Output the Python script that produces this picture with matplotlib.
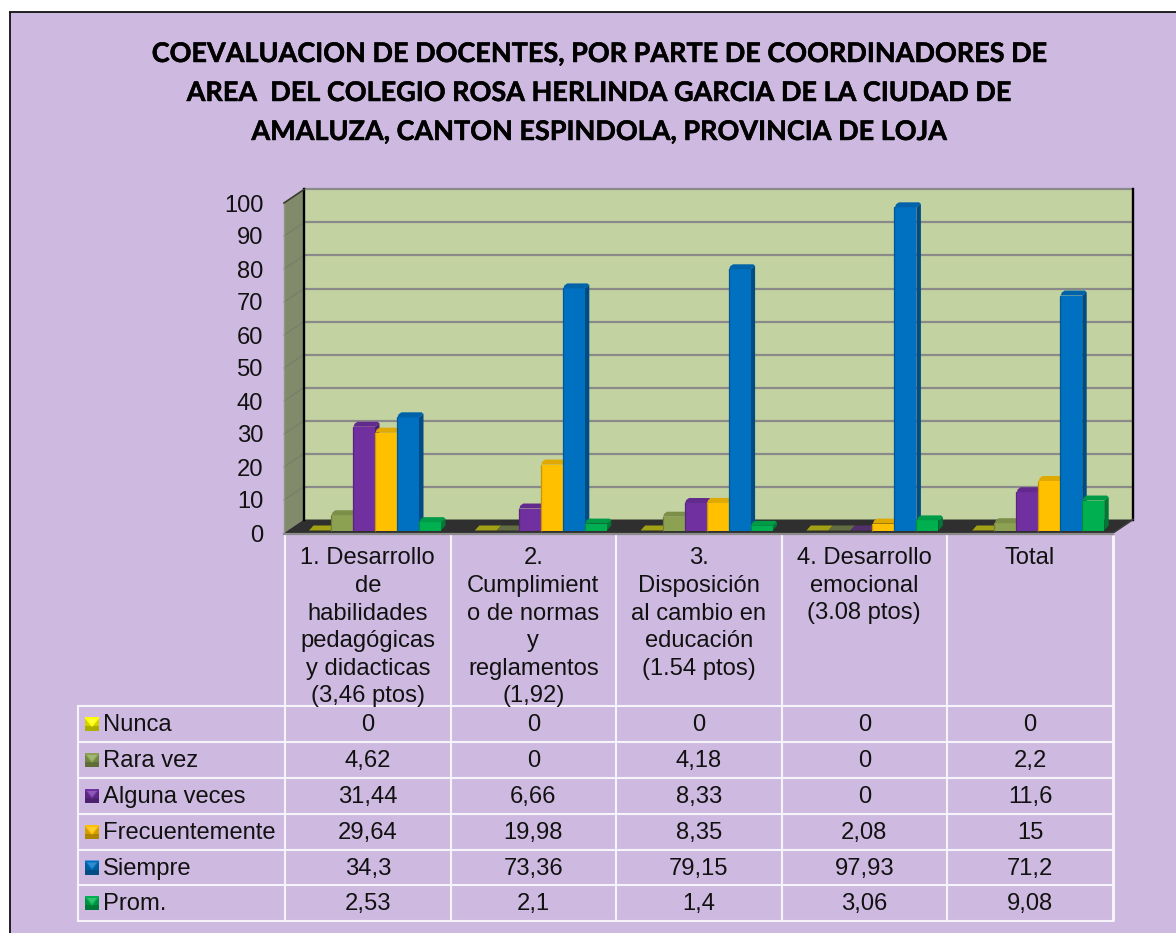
import matplotlib
matplotlib.use("Agg")
import matplotlib.pyplot as plt
import matplotlib.patheffects as pe
from matplotlib.patches import Polygon, Rectangle

plt.rcParams['font.family'] = ['Liberation Sans', 'DejaVu Sans']

W, H = 1176, 933

title_lines = ["COEVALUACION DE DOCENTES, POR PARTE DE COORDINADORES DE",
               "AREA  DEL COLEGIO ROSA HERLINDA GARCIA DE LA CIUDAD DE",
               "AMALUZA, CANTON ESPINDOLA, PROVINCIA DE LOJA"]
categories = ["1. Desarrollo\nde\nhabilidades\npedagógicas\ny didacticas\n(3,46 ptos)",
              "2.\nCumplimient\no de normas\ny\nreglamentos\n(1,92)",
              "3.\nDisposición\nal cambio en\neducación\n(1.54 ptos)",
              "4. Desarrollo\nemocional\n(3.08 ptos)",
              "Total"]
series_names = ["Nunca", "Rara vez", "Alguna veces", "Frecuentemente", "Siempre", "Prom."]
nunca = [0, 0, 0, 0, 0]
rara_vez = [4.62, 0, 4.18, 0, 2.2]
alguna_veces = [31.44, 6.66, 8.33, 0, 11.6]
frecuentemente = [29.64, 19.98, 8.35, 2.08, 15]
siempre = [34.3, 73.36, 79.15, 97.93, 71.2]
prom = [2.53, 2.1, 1.4, 3.06, 9.08]
all_series = [nunca, rara_vez, alguna_veces, frecuentemente, siempre, prom]
yticks = list(range(0, 101, 10))

colors = ["#FFFF00", "#8CA252", "#7030A0", "#FFC000", "#0070C0", "#00B050"]
BG = "#CEBAE0"
FS = 17.1

fig = plt.figure(figsize=(W / 100, H / 100), dpi=100, facecolor="white")

# page layer, in pixels
pg = fig.add_axes([0, 0, 1, 1], zorder=1)
pg.set_xlim(0, W)
pg.set_ylim(H, 0)
pg.axis("off")
pg.add_patch(Rectangle((10, 12), W - 10, H - 12, fc=BG, ec="none"))
pg.plot([10, 10], [H, 12], color="#111111", lw=1.3, solid_capstyle="butt")
pg.plot([9.3, W], [11.6, 11.6], color="#111111", lw=1.3, solid_capstyle="butt")

for line, y in zip(title_lines, [62, 101, 140]):
    pg.text(598, y, line, ha="center", va="baseline", family="Lato", weight="bold",
            fontsize=19.45, color="#000000",
            path_effects=[pe.withStroke(linewidth=0.35, foreground="#000000")])

# table
col_x = [285, 450.5, 616, 781.5, 947, 1113]
row_y = [706, 742, 778, 814, 849.5, 885, 921]
white = "#F7F3FA"
for i, x in enumerate(col_x):
    pg.plot([x, x], [535, 921], color=white, lw=2.2 if i == 5 else 1.5, solid_capstyle="butt")
pg.plot([78, 78], [706, 921], color=white, lw=1.5)
for y in row_y:
    pg.plot([78, 1113], [y, y], color=white, lw=1.5)


def shade(c, f, other=(0, 0, 0)):
    r = matplotlib.colors.to_rgb(c)
    return tuple(a * f + b * (1 - f) for a, b in zip(r, other))


for k, (name, vals, col) in enumerate(zip(series_names, all_series, colors)):
    base = row_y[k] + 25
    pg.text(103, base, name, ha="left", va="baseline", fontsize=FS, color="#111111")
    top = row_y[k] + 11
    pg.add_patch(Rectangle((85, top), 14, 14, fc=shade(col, 0.82), ec="none"))
    pg.add_patch(Rectangle((85, top + 9), 14, 5, fc=shade(col, 0.68), ec="none"))
    pg.add_patch(Polygon([(85, top), (99, top), (99, top + 1.5), (92, top + 10), (85, top + 1.5)],
                         fc=shade(col, 1.0), ec="none"))
    pg.add_patch(Polygon([(87, top + 2), (97, top + 2), (92, top + 8)],
                         fc=shade(col, 0.8, (1, 1, 1)), ec="none"))
    for c, v in enumerate(vals):
        pg.text((col_x[c] + col_x[c + 1]) / 2, base, f"{v:g}".replace(".", ","),
                ha="center", va="baseline", fontsize=FS, color="#111111")

for c, label in enumerate(categories):
    for n, line in enumerate(label.split("\n")):
        pg.text((col_x[c] + col_x[c + 1]) / 2, 564.5 + n * 27.5, line,
                ha="center", va="baseline", fontsize=FS, color="#111111")

# chart layer: x in categories, y in chart values
L, R, B, T = 284, 1113, 533, 203
ax = fig.add_axes([L / W, 1 - B / H, (R - L) / W, (B - T) / H], zorder=2)
ax.patch.set_alpha(0)
ax.set_xlim(0, 5)
ax.set_ylim(0, 100)
PX = 5 / (R - L)      # one pixel along x, in categories
PY = 100 / (B - T)    # one pixel along y, in values
DX, DY = 20 * PX, 13.5 * PY
for s in ax.spines.values():
    s.set_visible(False)
ax.set_xticks([])
ax.set_yticks(yticks)
ax.tick_params(axis="y", length=0, pad=15, labelsize=FS, labelcolor="#111111")


def poly(points, **kw):
    kw.setdefault("ec", "none")
    ax.add_patch(Polygon(points, clip_on=False, **kw))


# walls and floor
poly([(DX, DY), (5 + DX, DY), (5 + DX, 100 + DY), (DX, 100 + DY)], fc="#C3D2A1", zorder=1)
poly([(0, 0), (DX, DY), (DX, 100 + DY), (0, 100)], fc="#818A6B", zorder=1)
poly([(0, 0), (5, 0), (5 + DX, DY), (DX, DY)], fc="#2F2F2F", zorder=1)
for t in yticks[1:]:
    ax.plot([DX, 5 + DX], [t + DY, t + DY], color="#8A8A8A", lw=1.6, clip_on=False, zorder=1.5,
            solid_capstyle="butt")
    ax.plot([0, DX], [t, t + DY], color="#767E66", lw=0.8, clip_on=False, zorder=1.5)
ax.plot([DX, DX], [DY, 100 + DY], color="#000000", lw=1.7, clip_on=False, zorder=1.6)
ax.plot([5 + DX, 5 + DX], [DY, 100 + DY], color="#000000", lw=1.7, clip_on=False, zorder=1.6)
ax.plot([0, 0], [0, 100], color="#8F9682", lw=1, clip_on=False, zorder=1.6)
ax.plot([0, DX], [100, 100 + DY], color="#3A3F30", lw=1.2, clip_on=False, zorder=1.6)
ax.plot([5, 5 + DX], [0, DY], color="#3A3A3A", lw=1.2, clip_on=False, zorder=1.6)
ax.plot([0, 5], [-0.4, -0.4], color="#8C8C8C", lw=1.6, clip_on=False, zorder=1.6)

# bars
BW = 22 * PX
START = 25 * PX
LIFT = 2.5 * PY
SX, SY = 4.5 * PX, 5 * PY
FLOOR = "#2F2F2F"
floor_rgb = matplotlib.colors.to_rgb(FLOOR)
for c in range(5):
    for k, (vals, col) in enumerate(zip(all_series, colors)):
        v = vals[c]
        x0 = c + START + k * BW
        x1 = x0 + BW
        z = 3 + k * 0.1
        if v == 0:
            poly([(x0, LIFT), (x1, LIFT), (x1 + SX, LIFT + SY), (x0 + SX, LIFT + SY)],
                 fc=shade(col, 0.55, floor_rgb), zorder=z)
            continue
        top = LIFT + v
        poly([(x1, LIFT), (x1 + SX, LIFT + SY), (x1 + SX, top + SY * 0.7), (x1, top)],
             fc=shade(col, 0.68), zorder=z)
        ax.bar(x0, v, width=BW, bottom=LIFT, align="edge", color=col, zorder=z + 0.01,
               linewidth=0, clip_on=False)
        # rounded looking cap over the top of the bar
        poly([(x0, top - 0.3 * SY), (x0 + SX * 0.35, top + SY * 0.6), (x0 + SX, top + SY),
              (x1 + SX * 0.6, top + SY), (x1 + SX, top + SY * 0.65), (x1, top), (x0 + SX * 0.2, top)],
             fc=shade(col, 0.88), zorder=z + 0.02)
        ax.plot([x0, x0], [LIFT, top], color=shade(col, 0.78), lw=0.9, clip_on=False,
                zorder=z + 0.03, solid_capstyle="butt")

fig.savefig("out.png", dpi=100, facecolor="white")
